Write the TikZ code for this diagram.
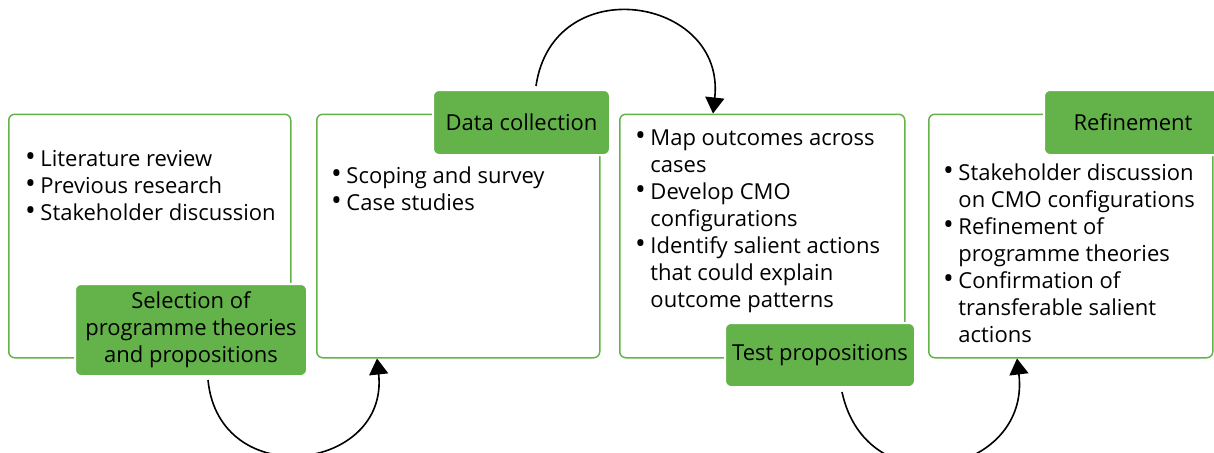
\documentclass[tikz,border=0pt]{standalone}
\usepackage{fontspec}
\setmainfont{Open Sans}
\usetikzlibrary{arrows.meta}
\definecolor{leaf}{RGB}{100,179,74}
\newcommand{\blt}{\raisebox{-0.5pt}{\scalebox{1.3}{\textbullet}}}
\newcommand{\pts}[1]{\fontsize{22}{27}\selectfont\begin{tabular}[t]{@{}l@{\hspace{4.5pt}}l@{}}#1\end{tabular}}

\begin{document}
\begin{tikzpicture}
    [x=1pt,y=-1pt,
     box/.style={draw=leaf, line width=1.5pt, rounded corners=6pt, fill=white, inner sep=0pt, anchor=north west, minimum height=243.5pt},
     tag/.style={fill=leaf, draw=white, line width=2pt, rounded corners=6pt, inner sep=0pt, align=center, font=\fontsize{22}{27}\selectfont},
     list/.style={inner sep=0pt, anchor=base west},
     loop/.style={line width=1.6pt, -{Triangle[width=19pt,length=16pt]}}]
  \useasboundingbox (0,0) rectangle (1214,452);

  \node[box, minimum width=282pt] (b1) at (8,113.5) {};
  \node[box, minimum width=283pt] (b2) at (316,113.5) {};
  \node[box, minimum width=285pt] (b3) at (619,113.5) {};
  \node[box, minimum width=284pt] (b4) at (928,113.5) {};

  \node[list] (t1) at (25,166) {\pts{\blt & Literature review\\ \blt & Previous research\\ \blt & Stakeholder discussion}};
  \node[list] (t2) at (331,183) {\pts{\blt & Scoping and survey\\ \blt & Case studies}};
  \node[list] (t3) at (635,145) {\pts{\blt & Map outcomes across\\ & cases\\ \blt & Develop CMO\\ & configurations\\ \blt & Identify salient actions\\ & that could explain\\ & outcome patterns}};
  \node[list] (t4) at (943,180) {\pts{\blt & Stakeholder discussion\\ & on CMO configurations\\ \blt & Refinement of\\ & programme theories\\ \blt & Confirmation of\\ & transferable salient\\ & actions}};

  \node[tag, minimum width=232pt, minimum height=92pt] (l1) at (191,330) {Selection of\\programme theories\\and propositions};
  \node[tag, minimum width=177pt, minimum height=65pt] (l2) at (521.5,122.5) {Data collection};
  \node[tag, minimum width=190pt, minimum height=64pt] (l3) at (820,355) {Test propositions};
  \node[tag, minimum width=178pt, minimum height=65pt] (l4) at (1133,122.5) {Refinement};

  \draw[loop] ([xshift=17pt,yshift=-3pt]l1.south) .. controls +(11,113) and +(12,113) .. ([xshift=61pt]b2.south west);
  \draw[loop] ([xshift=104pt,yshift=3pt]l2.north west) .. controls +(17,-117) and +(13,-117) .. ([xshift=94pt]b3.north west);
  \draw[loop] ([xshift=118pt,yshift=-4pt]l3.south west) .. controls +(25,116) and +(14,116) .. ([xshift=89pt]b4.south west);
\end{tikzpicture}
\end{document}
